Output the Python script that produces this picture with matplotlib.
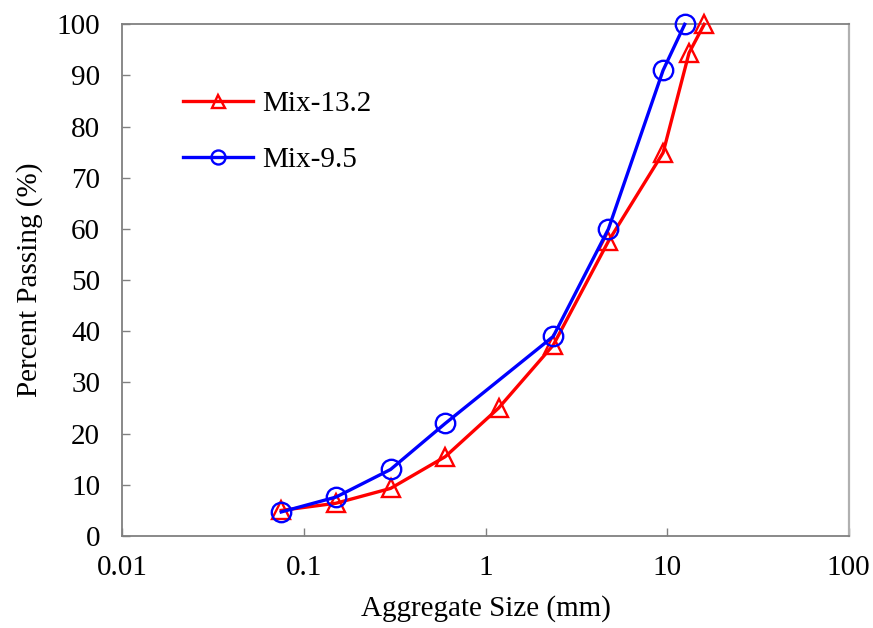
import matplotlib
matplotlib.use("Agg")
import matplotlib.pyplot as plt

plt.rcParams['font.family'] = ['Liberation Serif', 'DejaVu Serif']

sizes_132 = [0.075, 0.15, 0.3, 0.6, 1.18, 2.36, 4.75, 9.5, 13.2, 16.0]
pass_132 = [5.0, 6.4, 9.3, 15.5, 25.0, 37.3, 57.6, 74.9, 94.4, 100.0]

sizes_95 = [0.075, 0.15, 0.3, 0.6, 2.36, 4.75, 9.5, 12.5]
pass_95 = [4.7, 7.6, 13.0, 22.0, 39.0, 60.0, 91.0, 100.0]

xticks = [0.01, 0.1, 1, 10, 100]
xticklabels = ["0.01", "0.1", "1", "10", "100"]
yticks = list(range(0, 101, 10))

fig = plt.figure(figsize=(8.73, 6.28), dpi=100)
ax = fig.add_axes([0.1401, 0.1465, 0.8321, 0.8148])

ax.plot(sizes_132, pass_132, color='#ff0000', lw=2.4, marker='^', ms=13,
        mfc='none', mec='#ff0000', mew=1.7, label='Mix-13.2', zorder=3,
        clip_on=False)
ax.plot(sizes_95, pass_95, color='#0000ff', lw=2.4, marker='o', ms=14,
        mfc='none', mec='#0000ff', mew=1.7, label='Mix-9.5', zorder=4,
        clip_on=False)

ax.set_xscale('log')
ax.set_xlim(0.01, 100)
ax.set_ylim(0, 100)
ax.set_xticks(xticks)
ax.set_xticklabels(xticklabels)
ax.xaxis.set_minor_locator(matplotlib.ticker.NullLocator())
ax.set_yticks(yticks)

for s in ['left', 'bottom', 'top']:
    ax.spines[s].set_color('#808080')
    ax.spines[s].set_linewidth(1.3)
ax.spines['right'].set_color('#b0b0b0')
ax.spines['right'].set_linewidth(1.6)

ax.tick_params(axis='both', direction='in', length=6, width=1.0, color='#808080',
               labelsize=21, top=False, right=False)
ax.tick_params(axis='x', pad=14)
ax.tick_params(axis='y', pad=16)

ax.set_xlabel('Aggregate Size (mm)', fontsize=21, labelpad=10)
ax.set_ylabel('Percent Passing (%)', fontsize=21, labelpad=10)

leg = ax.legend(loc='upper left', bbox_to_anchor=(0.0555, 0.91), frameon=False,
                fontsize=21, handlelength=2.4, markerscale=0.72,
                labelspacing=1.0, handletextpad=0.3, borderpad=0.2)

fig.savefig('out.png', dpi=100)
